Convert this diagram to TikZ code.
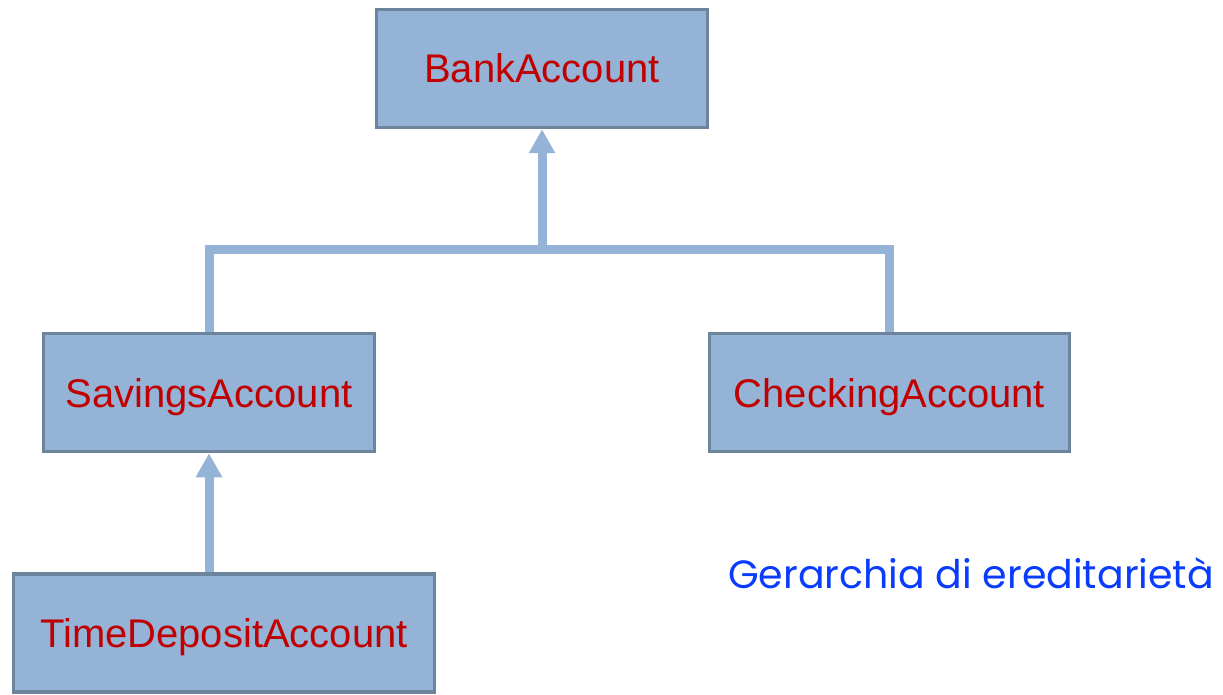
\documentclass[tikz,border=0pt]{standalone}
\usepackage{fontspec}
\setmainfont{Liberation Sans}
\newfontfamily\titlefont{Poppins}
\usetikzlibrary{arrows.meta}
\definecolor{boxfill}{HTML}{95B3D7}
\definecolor{boxline}{HTML}{6C849C}
\definecolor{classred}{HTML}{C00000}
\definecolor{titleblue}{HTML}{0A3CFF}

\begin{document}
\begin{tikzpicture}[x=1pt, y=-1pt,
  cls/.style={draw=boxline, fill=boxfill, line width=3.5pt, minimum height=118pt, inner sep=0pt, text height=29pt, text depth=0pt, text=classred, font=\fontsize{40}{48}\selectfont},
  link/.style={draw=boxfill, line width=9pt},
  isa/.style={link, -{Triangle[width=25pt,length=24pt]}}]
  \useasboundingbox (0,0) rectangle (1223,695);
  % classes
  \node[cls, minimum width=331pt] (bank) at (542,68.5) {BankAccount};
  \node[cls, minimum width=331pt] (savings) at (209,392.5) {SavingsAccount};
  \node[cls, minimum width=360pt] (checking) at (889.5,392.5) {CheckingAccount};
  \node[cls, minimum width=421pt] (timedep) at (224,633) {TimeDepositAccount};
  % inheritance
  \coordinate (join) at (542,249);
  \draw[link] (savings.north) |- (join) -| (checking.north);
  \draw[isa] (join) -- (bank.south);
  \draw[isa] (savings.south |- timedep.north) -- (savings.south);
  \node[anchor=base west, inner sep=0pt, text=titleblue, font=\titlefont\fontsize{39.5}{46}\selectfont] (title) at (728,588) {Gerarchia di ereditarietà};
\end{tikzpicture}
\end{document}
